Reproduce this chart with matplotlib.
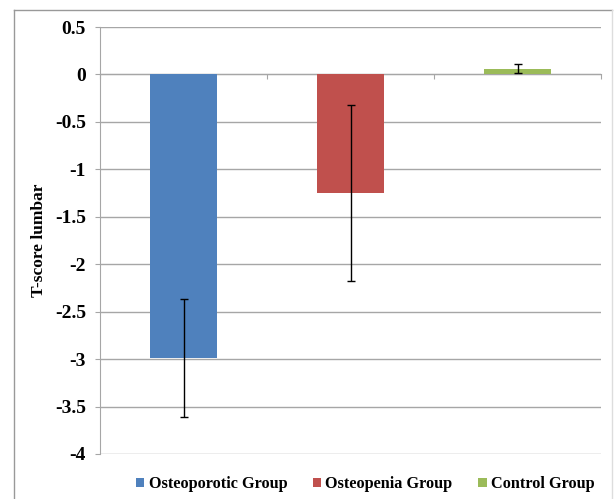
import matplotlib
matplotlib.use("Agg")
import matplotlib.pyplot as plt
from matplotlib.lines import Line2D
from matplotlib.patches import Patch

# data
groups = ["Osteoporotic Group", "Osteopenia Group", "Control Group"]
tscore = [-2.99, -1.25, 0.06]
sd = [0.62, 0.93, 0.05]
colors = ["#4F81BD", "#C0504D", "#9BBB59"]
yticks = [0.5, 0, -0.5, -1, -1.5, -2, -2.5, -3, -3.5, -4]
ytick_labels = ["0.5", "0", "-0.5", "-1", "-1.5", "-2", "-2.5", "-3", "-3.5", "-4"]

plt.rcParams['font.family'] = ['Liberation Serif', 'DejaVu Serif']
plt.rcParams['font.weight'] = 'bold'

fig = plt.figure(figsize=(6.14, 4.99), dpi=100)
ax = fig.add_axes([100/614, 1-454/499, 501/614, 427/499])

grey = "#a6a6a6"
x = list(range(len(groups)))
ax.bar(x, tscore, width=0.4, color=colors, zorder=3)
ax.errorbar(x, tscore, yerr=sd, fmt='none', ecolor='black', elinewidth=1,
            capsize=3, capthick=1, zorder=4)

ax.set_xlim(-0.5, 2.5)
ax.set_ylim(-4, 0.5)
ax.set_yticks(yticks)
ax.set_yticklabels(ytick_labels, fontsize=14, fontweight='bold')
ax.yaxis.grid(True, color=grey, linewidth=1, zorder=0)
ax.set_axisbelow(True)

# category axis crosses at zero
ax.spines['bottom'].set_position(('data', 0))
ax.spines['bottom'].set_color(grey)
ax.spines['bottom'].set_zorder(2)
ax.spines['left'].set_color(grey)
ax.spines['top'].set_visible(False)
ax.spines['right'].set_visible(False)
ax.set_xticks([-0.5, 0.5, 1.5, 2.5])
ax.set_xticklabels([])
ax.tick_params(axis='x', direction='out', length=3.6, color=grey)
ax.tick_params(axis='y', direction='out', length=3.6, color=grey, pad=6.5)

ax.set_ylabel("T-score lumbar", fontsize=12.5, fontweight='bold', labelpad=6)

handles = [Patch(facecolor=c, edgecolor='none') for c in colors]
fig.legend(handles, groups, loc='center', bbox_to_anchor=(0.595, 0.03), ncol=3,
           frameon=False, handlelength=0.5, handleheight=0.5, handletextpad=0.25,
           columnspacing=1.6, borderpad=0,
           prop={'family': 'Liberation Serif', 'weight': 'bold', 'size': 11.7})

# outer chart border
bc = "#999999"
fig.add_artist(Line2D([14/614, 14/614], [0, 1-10/499], color=bc, lw=1))
fig.add_artist(Line2D([14/614, 612/614], [1-10/499, 1-10/499], color=bc, lw=1))
fig.add_artist(Line2D([612/614, 612/614], [0, 1-10/499], color="#dddddd", lw=1))

fig.savefig("out.png", dpi=100)
